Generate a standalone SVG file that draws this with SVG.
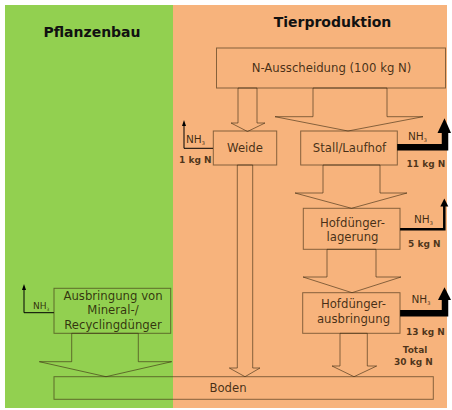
<svg xmlns="http://www.w3.org/2000/svg" width="452" height="410" viewBox="0 0 452 410">
<defs>
<style>
.t{font-family:"DejaVu Sans","Liberation Sans",sans-serif;font-size:11.7px;fill:#201000;fill-opacity:0.82;text-anchor:middle}
.title{font-family:"DejaVu Sans","Liberation Sans",sans-serif;font-size:14px;font-weight:bold;fill:#111;text-anchor:middle}
.kg{font-family:"DejaVu Sans","Liberation Sans",sans-serif;font-size:9px;font-weight:bold;fill:#201000;fill-opacity:0.78}
.nh{font-family:"DejaVu Sans","Liberation Sans",sans-serif;font-size:10.5px;fill:#201000;fill-opacity:0.85}
.nhs{font-family:"DejaVu Sans","Liberation Sans",sans-serif;font-size:5px;fill:#201000;fill-opacity:0.85}
.box{fill:none;stroke:#3a2a10;stroke-opacity:0.6;stroke-width:1}
.blk{fill:none;stroke:#3a2a10;stroke-opacity:0.6;stroke-width:1;stroke-linejoin:miter}
.em{fill:none;stroke:#000;stroke-linejoin:miter}
</style>
</defs>
<rect x="0" y="0" width="452" height="410" fill="#ffffff"/>
<rect x="5" y="5" width="168" height="403" fill="#92d050"/>
<rect x="173" y="5" width="274" height="403" fill="#f7b37c"/>
<text class="title" x="92" y="36.5">Pflanzenbau</text>
<text class="title" x="332.5" y="27">Tierproduktion</text>

<g id="connectors">
<polygon class="blk" points="238,88 238,123 231,123 247.5,131.5 265,123 257,123 257,88"/>
<polygon class="blk" points="313,88 313,116.7 275,116.7 348,131 423,116.7 387,116.7 387,88"/>
<polygon class="blk" points="323,165 323,193 295,193 351.5,208.3 407,193 380,193 380,165"/>
<polygon class="blk" points="327,249.3 327,277 303,277 352,292.7 401,277 376,277 376,249.3"/>
<polygon class="blk" points="340,333.3 340,366 332,366 354,376.7 376.7,366 367.3,366 367.3,333.3"/>
<polygon class="blk" points="237.3,165 237.3,368 229.3,368 245,376.7 260,368 252.7,368 252.7,165"/>
<polygon class="blk" points="71.7,333.3 71.7,361.7 39.3,361.7 106,376.7 171.7,361.7 138.3,361.7 138.3,333.3"/>
<path class="em" d="M213,148.3 H184 V125" stroke-width="1"/>
<polygon points="182,126 184,120 186,126" fill="#000"/>
<path class="em" d="M54,312.7 H24 V289" stroke-width="1"/>
<polygon points="22,290 24,284 26,290" fill="#000"/>
<path class="em" d="M397,147.2 H445 V131" stroke-width="6.5"/>
<polygon points="437.5,133 444.5,118.3 451,133" fill="#000"/>
<path class="em" d="M400,229.3 H444.3 V205" stroke-width="2.5"/>
<polygon points="440.3,206.5 444.3,198.5 448.3,206.5" fill="#000"/>
<path class="em" d="M400,313.3 H445 V298" stroke-width="6.5"/>
<polygon points="438,300 444.5,287.3 451,300" fill="#000"/>
</g>

<g id="n-ausscheidung">
<rect class="box" x="216.5" y="48" width="229" height="40"/>
<text class="t" x="331.5" y="72">N-Ausscheidung (100 kg N)</text>
</g>
<g id="weide">
<rect class="box" x="213.3" y="131" width="63.4" height="34"/>
<text class="t" x="245" y="151.7">Weide</text>
<text class="nh" x="186" y="143">NH<tspan class="nhs" dy="2">3</tspan></text>
<text class="kg" x="179" y="162.7">1 kg N</text>
</g>
<g id="stall">
<rect class="box" x="300.7" y="131" width="96.6" height="34"/>
<text class="t" x="349.5" y="151.7">Stall/Laufhof</text>
<text class="nh" x="408" y="139.5">NH<tspan class="nhs" dy="2">3</tspan></text>
<text class="kg" x="406.5" y="167.3">11 kg N</text>
</g>
<g id="lagerung">
<rect class="box" x="303.3" y="208.3" width="96.7" height="41"/>
<text class="t" x="352.5" y="226.7">Hofdünger-</text>
<text class="t" x="352.5" y="240.5">lagerung</text>
<text class="nh" x="414" y="223.3">NH<tspan class="nhs" dy="2">3</tspan></text>
<text class="kg" x="408" y="246.7">5 kg N</text>
</g>
<g id="ausbringung">
<rect class="box" x="302.7" y="292.7" width="97.3" height="40.6"/>
<text class="t" x="353.5" y="308.3">Hofdünger-</text>
<text class="t" x="353.5" y="323.3">ausbringung</text>
<text class="nh" x="411.5" y="303.3">NH<tspan class="nhs" dy="2">3</tspan></text>
<text class="kg" x="406" y="335">13 kg N</text>
<text class="kg" x="415" y="353.3" text-anchor="middle">Total</text>
<text class="kg" x="413.5" y="365" text-anchor="middle">30 kg N</text>
</g>
<g id="mineral">
<rect class="box" x="54" y="288.3" width="116.7" height="45"/>
<text class="t" x="113" y="299.5">Ausbringung von</text>
<text class="t" x="113" y="314">Mineral-/</text>
<text class="t" x="113" y="329">Recyclingdünger</text>
<text class="nh" x="33" y="309.3" style="font-size:9px">NH<tspan class="nhs" dy="2" style="font-size:4.5px">3</tspan></text>
</g>
<g id="boden">
<rect class="box" x="54" y="376.7" width="379.3" height="22.6"/>
<text class="t" x="228" y="391.7" text-anchor="start">Boden</text>
</g>
</svg>
